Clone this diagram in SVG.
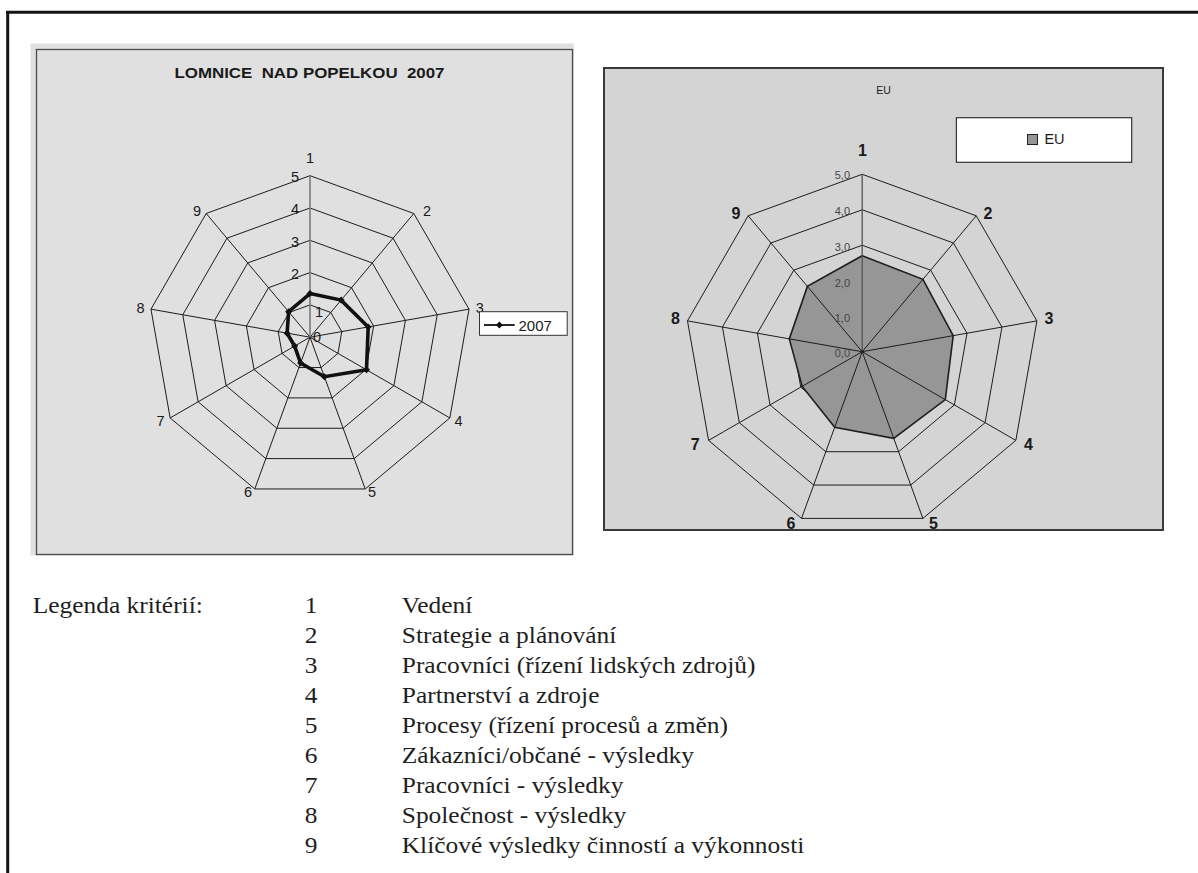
<svg xmlns="http://www.w3.org/2000/svg" xmlns:xlink="http://www.w3.org/1999/xlink" width="1198" height="873" viewBox="0 0 1198 873">
  <style>
    .grid { fill: none; stroke: #1c1c1c; stroke-width: 1; }
    .axis-v { fill: none; stroke: #7a7a7a; stroke-width: 1.6; }
    .sans { font-family: "Liberation Sans", Arial, sans-serif; fill: #1a1a1a; }
    .lbl { font-size: 14.5px; }
    .val { font-size: 14.5px; }
    .lblb { font-size: 16px; font-weight: bold; }
    .valsm { font-size: 11px; fill: #454545; }
    .serif { font-family: "Liberation Serif", "Times New Roman", serif; font-size: 24px; fill: #1e1e1e; }
  </style>
  <defs>
    <!-- unit nonagon (radius 100) and its spokes, scaled per ring -->
    <path id="ring" d="M0,-100 L64.28,-76.6 L98.48,-17.36 L86.6,50 L34.2,93.97 L-34.2,93.97 L-86.6,50 L-98.48,-17.36 L-64.28,-76.6 Z" vector-effect="non-scaling-stroke"/>
    <path id="spokes" d="M0,0 L64.28,-76.6 M0,0 L98.48,-17.36 M0,0 L86.6,50 M0,0 L34.2,93.97 M0,0 L-34.2,93.97 M0,0 L-86.6,50 M0,0 L-98.48,-17.36 M0,0 L-64.28,-76.6" vector-effect="non-scaling-stroke"/>
    <path id="vaxis" d="M0,0 L0,-100" vector-effect="non-scaling-stroke"/>
    <marker id="dia" viewBox="-4 -4 8 8" markerWidth="8" markerHeight="8" markerUnits="userSpaceOnUse">
      <path d="M0,-3.5 L3.5,0 L0,3.5 L-3.5,0 Z" fill="#111"/>
    </marker>
  </defs>

  <rect width="1198" height="873" fill="#ffffff"/>

  <!-- page frame -->
  <g id="page-frame" stroke="#141414" stroke-width="3" fill="none">
    <line x1="6" y1="12.3" x2="1198" y2="12.3"/>
    <line x1="7.7" y1="11" x2="7.7" y2="873"/>
  </g>

  <!-- left chart: LOMNICE NAD POPELKOU 2007 -->
  <g id="chart-lomnice">
    <rect x="30.5" y="43.5" width="543.5" height="512" fill="#e0e0e0"/>
    <rect x="36.5" y="49.5" width="536" height="505" fill="none" stroke="#4a4a4a" stroke-width="1.3"/>
    <text class="sans" x="174.5" y="77.7" font-size="15.5" font-weight="bold" style="white-space:pre" textLength="270" lengthAdjust="spacingAndGlyphs">LOMNICE  NAD POPELKOU  2007</text>

    <g class="grid">
      <use xlink:href="#ring" transform="translate(310,337.2) scale(0.323)"/>
      <use xlink:href="#ring" transform="translate(310,337.2) scale(0.646)"/>
      <use xlink:href="#ring" transform="translate(310,337.2) scale(0.969)"/>
      <use xlink:href="#ring" transform="translate(310,337.2) scale(1.292)"/>
      <use xlink:href="#ring" transform="translate(310,337.2) scale(1.615)"/>
      <use xlink:href="#spokes" transform="translate(310,337.2) scale(1.615)"/>
    </g>
    <use class="axis-v" xlink:href="#vaxis" transform="translate(310,337.2) scale(1.615)"/>

    <!-- value scale -->
    <g class="sans val" text-anchor="end">
      <text x="299" y="182">5</text>
      <text x="299" y="214">4</text>
      <text x="299" y="246.5">3</text>
      <text x="299" y="279">2</text>
    </g>
    <g class="sans val">
      <text x="315" y="317">1</text>
      <text x="313" y="341.5">0</text>
    </g>

    <!-- category labels -->
    <g class="sans lbl">
      <text x="310" y="163.3" text-anchor="middle">1</text>
      <text x="423" y="216">2</text>
      <text x="475.7" y="313.3">3</text>
      <text x="454.6" y="425.7">4</text>
      <text x="368" y="497.3">5</text>
      <text x="252" y="497.3" text-anchor="end">6</text>
      <text x="164.5" y="425.7" text-anchor="end">7</text>
      <text x="144.7" y="313.3" text-anchor="end">8</text>
      <text x="201" y="216" text-anchor="end">9</text>
    </g>

    <!-- series 2007 -->
    <polygon points="310,293.6 341.1,300.1 368.2,326.9 366.5,369.8 324.4,376.7 300.6,363 294.6,346.1 287.1,333.2 288.6,311.7" fill="none" stroke="#111" stroke-width="3.6" stroke-linejoin="miter" marker-start="url(#dia)" marker-mid="url(#dia)"/>

    <!-- series legend -->
    <rect x="479.5" y="311.7" width="87.7" height="23.6" fill="#ffffff" stroke="#333" stroke-width="1"/>
    <line x1="484" y1="325" x2="514.7" y2="325" stroke="#111" stroke-width="1.8"/>
    <path d="M499.4,321.5 L502.9,325 L499.4,328.5 L495.9,325 Z" fill="#111"/>
    <text class="sans" x="518.5" y="330.7" font-size="15">2007</text>
  </g>

  <!-- right chart: EU -->
  <g id="chart-eu">
    <rect x="604" y="68" width="559" height="462" fill="#d4d4d4" stroke="#3a3a3a" stroke-width="2"/>
    <text class="sans" x="883.5" y="94.3" font-size="10.5" text-anchor="middle">EU</text>

    <g class="grid">
      <use xlink:href="#ring" transform="translate(862.2,351.7) scale(0.3548)"/>
      <use xlink:href="#ring" transform="translate(862.2,351.7) scale(0.7096)"/>
      <use xlink:href="#ring" transform="translate(862.2,351.7) scale(1.0644)"/>
      <use xlink:href="#ring" transform="translate(862.2,351.7) scale(1.4192)"/>
      <use xlink:href="#ring" transform="translate(862.2,351.7) scale(1.774)"/>
    </g>

    <!-- series EU (area) -->
    <polygon points="862.2,255.7 922.9,279.3 953.2,335.7 945.3,399.6 893.7,438.3 834.7,427.2 802.2,386.4 789.3,338.9 807.4,286.4" fill="#969696" stroke="#1e1e1e" stroke-width="1.6" stroke-linejoin="miter"/>

    <g class="grid">
      <use xlink:href="#spokes" transform="translate(862.2,351.7) scale(1.774)"/>
    </g>
    <use xlink:href="#vaxis" transform="translate(862.2,351.7) scale(1.774)" fill="none" stroke="#555" stroke-width="1.3"/>
    <circle cx="862.2" cy="351.7" r="1.6" fill="#222"/>

    <!-- value scale -->
    <g class="sans valsm" text-anchor="end">
      <text x="850" y="178.5">5,0</text>
      <text x="850" y="215">4,0</text>
      <text x="850" y="250.7">3,0</text>
      <text x="850" y="287">2,0</text>
      <text x="850" y="322.3">1,0</text>
      <text x="850" y="357.3">0,0</text>
    </g>

    <!-- category labels -->
    <g class="sans lblb">
      <text x="862.5" y="156" text-anchor="middle">1</text>
      <text x="983.6" y="219.3">2</text>
      <text x="1044.4" y="324">3</text>
      <text x="1024" y="450">4</text>
      <text x="929" y="529.3">5</text>
      <text x="795.5" y="529.3" text-anchor="end">6</text>
      <text x="699.7" y="450" text-anchor="end">7</text>
      <text x="680" y="324" text-anchor="end">8</text>
      <text x="740.4" y="219.3" text-anchor="end">9</text>
    </g>

    <!-- series legend -->
    <rect x="956.4" y="117.7" width="175.3" height="44.6" fill="#ffffff" stroke="#333" stroke-width="1.2"/>
    <rect x="1027.5" y="134.5" width="10" height="10" fill="#969696" stroke="#222" stroke-width="1"/>
    <text class="sans" x="1044.4" y="144.3" font-size="14.5">EU</text>
  </g>

  <!-- criteria legend -->
  <g id="criteria-legend" class="serif" transform="scale(1.06,1)">
    <text x="30.8" y="613.5">Legenda kritérií:</text>
    <g text-anchor="middle">
      <text x="293.4" y="613.5">1</text>
      <text x="293.4" y="643.5">2</text>
      <text x="293.4" y="673.5">3</text>
      <text x="293.4" y="703.5">4</text>
      <text x="293.4" y="733.5">5</text>
      <text x="293.4" y="763.5">6</text>
      <text x="293.4" y="793.5">7</text>
      <text x="293.4" y="823.5">8</text>
      <text x="293.4" y="853.5">9</text>
    </g>
    <text x="379" y="613.5">Vedení</text>
    <text x="379" y="643.5">Strategie a plánování</text>
    <text x="379" y="673.5">Pracovníci (řízení lidských zdrojů)</text>
    <text x="379" y="703.5">Partnerství a zdroje</text>
    <text x="379" y="733.5">Procesy (řízení procesů a změn)</text>
    <text x="379" y="763.5">Zákazníci/občané - výsledky</text>
    <text x="379" y="793.5">Pracovníci - výsledky</text>
    <text x="379" y="823.5">Společnost - výsledky</text>
    <text x="379" y="853.5">Klíčové výsledky činností a výkonnosti</text>
  </g>
</svg>
